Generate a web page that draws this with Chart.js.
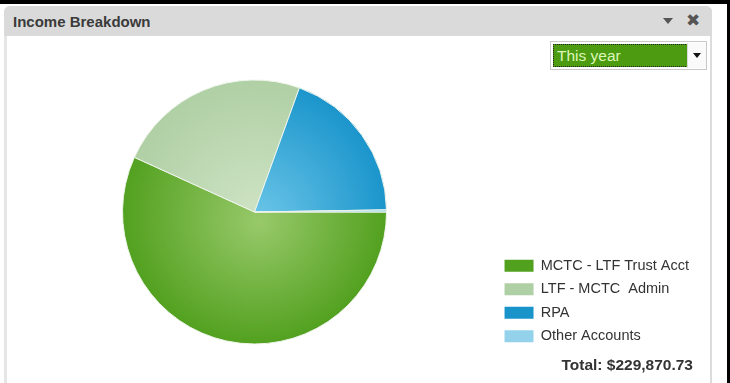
<!DOCTYPE html>
<html><head><meta charset="utf-8">
<script src="https://cdn.jsdelivr.net/npm/chart.js@4/dist/chart.umd.min.js"></script>
<style>
html,body{margin:0;padding:0;background:#fff;width:730px;height:383px;overflow:hidden;font-family:"Liberation Sans",Arial,sans-serif;}
#topline{position:absolute;left:0;top:0;width:730px;height:4px;background:#000;}
#rightline{position:absolute;left:727px;top:0;width:3px;height:383px;background:#000;}
#panel{position:absolute;left:4px;top:6px;width:703px;height:400px;border-left:3px solid #e6e6e6;border-right:2px solid #dcdcdc;border-radius:6px 6px 0 0;background:#fff;}
#header{position:absolute;left:4px;top:6px;width:708px;height:30px;background:#dadada;border-radius:6px 6px 0 0;}
#title{position:absolute;left:13px;top:13px;font:bold 15px "Liberation Sans",Arial,sans-serif;color:#3a3a3a;}
#hdtri{position:absolute;left:663px;top:18px;width:0;height:0;border-left:5.5px solid transparent;border-right:5.5px solid transparent;border-top:6px solid #555;}
#hdx{position:absolute;left:686px;top:10px;font:bold 17px "DejaVu Sans",sans-serif;color:#555;}
#chart{position:absolute;left:0;top:0;z-index:2;}
#dd{position:absolute;left:550px;top:41px;width:155px;height:27px;border:1px solid #c8c8c8;background:#fff;z-index:3;}
#ddfield{position:absolute;left:2px;top:2px;width:130px;height:21px;background:#4c9b10;border:1px dotted #222;color:#dcf7b8;font:15.5px "Liberation Sans",Arial,sans-serif;line-height:21px;padding-left:3px;box-sizing:content-box;}
#ddbtn{position:absolute;left:136px;top:1px;width:18px;height:25px;border-left:1px solid #d8d8d8;background:#fafafa;}
#ddtri{position:absolute;left:5px;top:10px;width:0;height:0;border-left:4px solid transparent;border-right:4px solid transparent;border-top:5px solid #111;}
#total{position:absolute;right:37px;top:356px;font:bold 15.5px "Liberation Sans",Arial,sans-serif;color:#333;z-index:3;}
</style></head>
<body>
<div id="topline"></div>
<div id="rightline"></div>
<div id="panel"></div>
<div id="header"></div>
<div id="title">Income Breakdown</div>
<div id="hdtri"></div>
<div id="hdx">✖</div>
<div id="dd"><div id="ddfield"></div><div id="ddbtn"><div id="ddtri"></div></div></div>
<div id="total"></div>
<canvas id="chart" width="730" height="383"></canvas>
<script>
const categories = ["MCTC - LTF Trust Acct", "LTF - MCTC  Admin", "RPA", "Other Accounts"];
const incomeValues = [130567.00, 54530.00, 44180.00, 593.73];
const periodLabel = "This year";
const totalLabel = "Total: $229,870.73";

const solidColors = ["#51a01e", "#afcfa4", "#1994cb", "#94d2ec"];
const innerColors = ["#98c96a", "#d0e4c6", "#6cc6e8", "#b8e2f4"];

document.getElementById('ddfield').textContent = periodLabel;
document.getElementById('total').textContent = totalLabel;

function radialFill(c) {
  const chart = c.chart;
  const a = chart.chartArea;
  const i = c.dataIndex;
  if (!a || i === undefined) return solidColors[i] || solidColors[0];
  const cx = (a.left + a.right) / 2, cy = (a.top + a.bottom) / 2;
  const g = chart.ctx.createRadialGradient(cx + 5, cy + 10, 0, cx, cy, 135);
  g.addColorStop(0, innerColors[i]);
  g.addColorStop(1, solidColors[i]);
  return g;
}

new Chart(document.getElementById('chart'), {
  type: 'pie',
  data: {
    labels: categories,
    datasets: [{
      data: incomeValues,
      backgroundColor: radialFill,
      borderColor: '#eef4ea',
      borderWidth: 1,
      radius: 132
    }]
  },
  options: {
    responsive: false,
    animation: false,
    devicePixelRatio: 1,
    rotation: 90,
    layout: { padding: { left: 13.5, right: 31, top: 71.5, bottom: 30.5 } },
    plugins: {
      tooltip: { enabled: false },
      legend: {
        position: 'right',
        align: 'end',
        labels: {
          boxWidth: 29,
          boxHeight: 12,
          padding: 9,
          color: '#333',
          font: { family: '"Liberation Sans", Arial, sans-serif', size: 14.5 },
          generateLabels: (chart) => categories.map((t, i) => ({
            text: t, fillStyle: solidColors[i], strokeStyle: solidColors[i],
            lineWidth: 0, hidden: false, index: i, fontColor: '#333'
          }))
        }
      }
    }
  }
});
</script>
</body></html>
